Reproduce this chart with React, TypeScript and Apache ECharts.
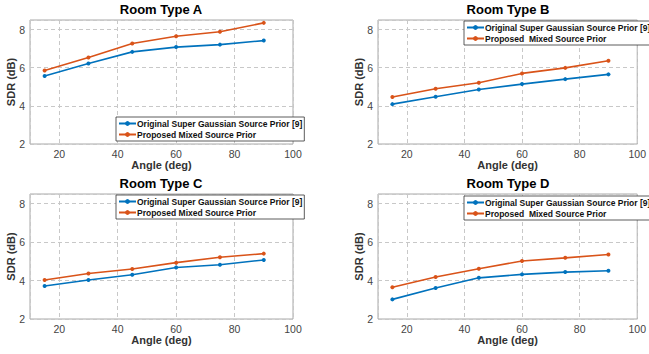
import React, { useEffect, useRef } from "react";
import * as echarts from "echarts";

const angles = [15, 30, 45, 60, 75, 90];
const xTicks = [20, 40, 60, 80, 100];
const yTicks = [2, 4, 6, 8];

const titles = ["Room Type A", "Room Type B", "Room Type C", "Room Type D"];

const origA = [5.56, 6.22, 6.83, 7.08, 7.21, 7.42];
const propA = [5.85, 6.53, 7.27, 7.65, 7.88, 8.35];
const origB = [4.09, 4.48, 4.86, 5.14, 5.4, 5.65];
const propB = [4.46, 4.9, 5.21, 5.7, 5.99, 6.36];
const origC = [3.72, 4.03, 4.3, 4.68, 4.82, 5.07];
const propC = [4.03, 4.37, 4.6, 4.93, 5.21, 5.4];
const origD = [3.02, 3.61, 4.14, 4.32, 4.44, 4.51];
const propD = [3.65, 4.18, 4.61, 5.02, 5.18, 5.35];

const origName = "Original Super Gaussian Source Prior [9]";
const propNames = [
  "Proposed Mixed Source Prior",
  "Proposed  Mixed Source Prior",
  "Proposed Mixed Source Prior",
  "Proposed  Mixed Source Prior",
];

const origSets = [origA, origB, origC, origD];
const propSets = [propA, propB, propC, propD];

const BLUE = "#0072BD";
const ORANGE = "#D95319";
const FONT = "'Liberation Sans', Arial, sans-serif";

const grids = [
  { left: 30, top: 20, width: 263, height: 124 },
  { left: 378, top: 20, width: 263, height: 124 },
  { left: 30, top: 194, width: 263, height: 125 },
  { left: 378, top: 194, width: 263, height: 125 },
];
const titlePos = [
  { left: 161, top: 3 },
  { left: 508, top: 3 },
  { left: 161, top: 177 },
  { left: 508, top: 177 },
];
const legendPos = [
  { left: 116, top: 117 },
  { left: 464, top: 21 },
  { left: 116, top: 195 },
  { left: 464, top: 196 },
];

export default function App() {
  const ref = useRef<HTMLDivElement>(null);
  useEffect(() => {
    if (!ref.current) return;
    const chart = echarts.init(ref.current, undefined, { renderer: "svg" });
    const pairs = (ys: number[]) => angles.map((a, i) => [a, ys[i]]);
    const option: any = {
      animation: false,
      backgroundColor: "#fff",
      title: titles.map((t, i) => ({
        text: t,
        left: titlePos[i].left,
        top: titlePos[i].top,
        textAlign: "center",
        padding: 0,
        textStyle: {
          fontFamily: FONT,
          fontSize: 13,
          fontWeight: "bold",
          color: "#000",
        },
      })),
      grid: grids.map((g) => ({
        ...g,
        show: true,
        borderColor: "#a8a8a8",
        borderWidth: 1,
        backgroundColor: "transparent",
      })),
      legend: legendPos.map((p, i) => ({
        left: p.left,
        top: p.top,
        orient: "vertical",
        data: [origName, propNames[i]],
        itemWidth: 17,
        itemHeight: 6,
        itemGap: 2,
        padding: [2, 2, 2, 2],
        borderColor: "#333",
        borderWidth: 0.8,
        backgroundColor: "#fff",
        selectedMode: false,
        textStyle: {
          fontFamily: FONT,
          fontSize: 8.5,
          fontWeight: "bold",
          color: "#111",
          padding: [0, 0, 0, -4],
        },
      })),
      xAxis: grids.map((_, i) => ({
        type: "value",
        gridIndex: i,
        min: 10,
        max: 100,
        splitNumber: 5,
        name: "Angle (deg)",
        nameLocation: "middle",
        nameGap: 15,
        nameMoveOverlap: false,
        nameTextStyle: {
          fontFamily: FONT,
          fontSize: 11,
          lineHeight: 12,
          fontWeight: "bold",
          color: "#333",
        },
        axisLine: { show: false },
        axisTick: { show: false },
        axisLabel: {
          margin: 5,
          fontFamily: FONT,
          fontSize: 10.5,
          lineHeight: 10,
          color: "#444",
          showMinLabel: false,
          formatter: (v: number) => (xTicks.includes(v) ? String(v) : ""),
        },
        splitLine: {
          show: true,
          lineStyle: { color: "#c8c8c8", type: [4, 3], width: 1 },
        },
      })),
      yAxis: grids.map((_, i) => ({
        type: "value",
        gridIndex: i,
        min: 2,
        max: 8.5,
        interval: 2,
        name: "SDR (dB)",
        nameLocation: "middle",
        nameGap: 13.5,
        nameMoveOverlap: false,
        nameTextStyle: {
          fontFamily: FONT,
          fontSize: 11,
          fontWeight: "bold",
          color: "#333",
        },
        axisLine: { show: false },
        axisTick: { show: false },
        axisLabel: {
          margin: 5,
          fontFamily: FONT,
          fontSize: 10.5,
          color: "#444",
          showMaxLabel: false,
          formatter: (v: number) => (yTicks.includes(v) ? String(v) : ""),
        },
        splitLine: {
          show: true,
          lineStyle: { color: "#c8c8c8", type: [4, 3], width: 1 },
        },
      })),
      series: [
        ...origSets.map((ys, i) => ({
          type: "line",
          name: origName,
          xAxisIndex: i,
          yAxisIndex: i,
          data: pairs(ys),
          symbol: "circle",
          symbolSize: 4,
          lineStyle: { color: BLUE, width: 1.6 },
          itemStyle: { color: BLUE },
        })),
        ...propSets.map((ys, i) => ({
          type: "line",
          name: propNames[i],
          xAxisIndex: i,
          yAxisIndex: i,
          data: pairs(ys),
          symbol: "circle",
          symbolSize: 4,
          lineStyle: { color: ORANGE, width: 1.6 },
          itemStyle: { color: ORANGE },
        })),
      ],
    };
    chart.setOption(option);
    return () => chart.dispose();
  }, []);
  return (
    <div
      ref={ref}
      style={{ position: "fixed", left: 0, top: 0, width: 649, height: 354 }}
    />
  );
}
